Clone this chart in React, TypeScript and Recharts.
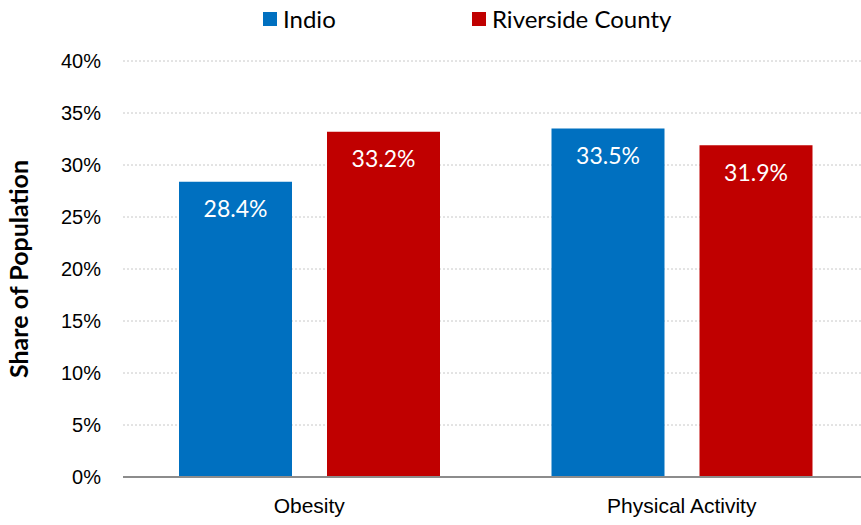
import { BarChart, Bar, XAxis, YAxis, CartesianGrid, Legend, LabelList } from "recharts";

const categorias = ["Obesity", "Physical Activity"];
const indio = [28.4, 33.5];
const riverside = [33.2, 31.9];
const ticksY = [0, 5, 10, 15, 20, 25, 30, 35, 40];

const dados = categorias.map((categoria, i) => ({
  categoria,
  indio: indio[i],
  riverside: riverside[i],
}));

const AZUL = "#0070C0";
const VERMELHO = "#C00000";
const FONTE_CALIBRI = "Lato, 'Liberation Sans', sans-serif";
const FONTE_ARIAL = "'Liberation Sans Narrow', 'Liberation Sans', Arial, sans-serif";

function LegendaPersonalizada() {
  const itens = [
    { nome: "Indio", cor: AZUL, largura: 209 },
    { nome: "Riverside County", cor: VERMELHO, largura: 230 },
  ];
  return (
    <div style={{ display: "flex", paddingLeft: 263, fontFamily: FONTE_CALIBRI, fontSize: 24, color: "#000" }}>
      {itens.map((item) => (
        <div key={item.nome} style={{ display: "flex", alignItems: "center", width: item.largura }}>
          <span style={{ width: 14, height: 14, background: item.cor, marginRight: 6, display: "inline-block" }} />
          <span>{item.nome}</span>
        </div>
      ))}
    </div>
  );
}

export default function App() {
  return (
    <div style={{ position: "absolute", left: 0, top: 0, width: 861, height: 525, overflow: "hidden", background: "#fff" }}>
      <BarChart
        width={868}
        height={525}
        data={dados}
        margin={{ top: 21, right: 0, bottom: 0, left: 0 }}
        barGap={35}
        barSize={113}
      >
        <CartesianGrid vertical={false} stroke="#c8c8c8" strokeDasharray="2 2" />
        <Legend
          verticalAlign="top"
          height={40}
          wrapperStyle={{ top: 4, left: 0, width: 868 }}
          content={<LegendaPersonalizada />}
        />
        <XAxis
          dataKey="categoria"
          height={48}
          tickLine={false}
          tickSize={0}
          tickMargin={21}
          axisLine={{ stroke: "#8c8c8c", strokeWidth: 2 }}
          tick={{ fill: "#000", fontSize: 21, fontFamily: FONTE_ARIAL }}
        />
        <YAxis
          width={123}
          domain={[0, 40]}
          ticks={ticksY}
          tickFormatter={(v) => `${v}%`}
          axisLine={false}
          tickLine={false}
          tickSize={0}
          tickMargin={22}
          tick={{ fill: "#000", fontSize: 20, fontFamily: FONTE_ARIAL }}
          label={{
            value: "Share of Population",
            angle: -90,
            position: "insideLeft",
            dx: 14,
            style: { textAnchor: "middle", fontWeight: 700, fontSize: 25, fontFamily: FONTE_CALIBRI, fill: "#000" },
          }}
        />
        <Bar dataKey="indio" name="Indio" fill={AZUL} isAnimationActive={false}>
          <LabelList
            dataKey="indio"
            position="insideTop"
            offset={19}
            formatter={(v: number) => `${v.toFixed(1)}%`}
            style={{ fill: "#fff", fontSize: 23, fontFamily: FONTE_CALIBRI }}
          />
        </Bar>
        <Bar dataKey="riverside" name="Riverside County" fill={VERMELHO} isAnimationActive={false}>
          <LabelList
            dataKey="riverside"
            position="insideTop"
            offset={19}
            formatter={(v: number) => `${v.toFixed(1)}%`}
            style={{ fill: "#fff", fontSize: 23, fontFamily: FONTE_CALIBRI }}
          />
        </Bar>
      </BarChart>
    </div>
  );
}
